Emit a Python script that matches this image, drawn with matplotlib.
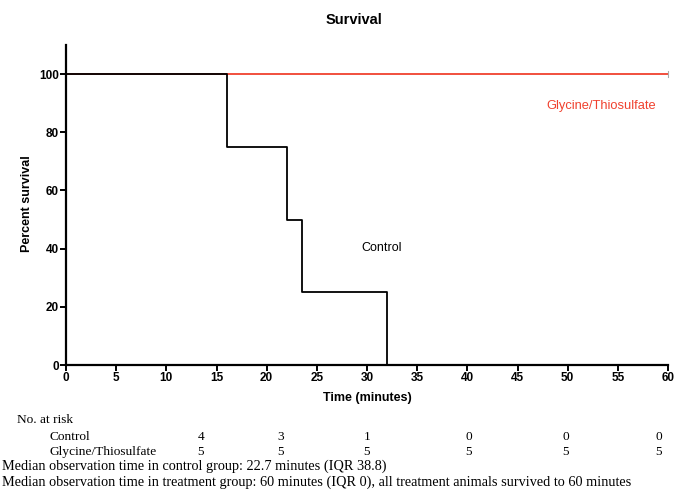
import matplotlib
matplotlib.use("Agg")
import matplotlib.pyplot as plt

# Kaplan-Meier step data (time in minutes, percent survival)
control_t = [0, 16, 22, 23.5, 32, 60]
control_s = [100, 75, 50, 25, 0, 0]
treat_t = [0, 60]
treat_s = [100, 100]

risk_times = [10, 20, 30, 40, 50, 60]
risk_control = [4, 3, 1, 0, 0, 0]
risk_treat = [5, 5, 5, 5, 5, 5]

RED = "#f0412e"

plt.rcParams["font.family"] = ["Liberation Sans", "DejaVu Sans"]

fig = plt.figure(figsize=(6.74, 4.90), dpi=100)
W, H = 674, 490
ax = fig.add_axes([66 / W, 1 - 365 / H, (668 - 66) / W, (365 - 45) / H])

ax.step(treat_t, treat_s, where="post", color=RED, lw=1.3, zorder=2)
ax.step(control_t, control_s, where="post", color="black", lw=1.3, zorder=3)
ax.plot([60, 60], [99, 101], color="#aaaaaa", lw=0.8, clip_on=False)

ax.set_xlim(0, 60)
ax.set_ylim(0, 110)
ax.set_xticks(range(0, 61, 5))
ax.set_yticks(range(0, 101, 20))
for s in ("top", "right"):
    ax.spines[s].set_visible(False)
for s in ("left", "bottom"):
    ax.spines[s].set_linewidth(1.6)
ax.tick_params(direction="out", length=4, width=1.4, labelsize=8.5, pad=1)
for lbl in ax.get_xticklabels() + ax.get_yticklabels():
    lbl.set_fontweight("bold")

ax.set_xlabel("Time (minutes)", fontsize=9, fontweight="bold", labelpad=6)
fig.text(27 / W, 1 - 204 / H, "Percent survival", rotation=90,
         ha="center", va="center", fontsize=9, fontweight="bold")
fig.text(354 / W, 1 - 20 / H, "Survival", ha="center", va="center",
         fontsize=10.5, fontweight="bold")

ax.text(31.5, 40.2, "Control", fontsize=9, ha="center", va="center")
ax.text(58.8, 89.2, "Glycine/Thiosulfate", fontsize=9.3, color=RED,
        ha="right", va="center")

# number-at-risk table below the plot
serif = ["Liberation Serif", "DejaVu Serif"]
fs = 9.6
fig.text(17 / W, 1 - 420 / H, "No. at risk", family=serif, fontsize=fs,
         va="center")
fig.text(50 / W, 1 - 437 / H, "Control", family=serif, fontsize=fs,
         va="center")
fig.text(50 / W, 1 - 452 / H, "Glycine/Thiosulfate", family=serif,
         fontsize=fs, va="center")
col_x = [201, 281, 367, 469, 566, 659]
for x, c, t in zip(col_x, risk_control, risk_treat):
    fig.text(x / W, 1 - 437 / H, str(c), family=serif, fontsize=fs,
             ha="center", va="center")
    fig.text(x / W, 1 - 452 / H, str(t), family=serif, fontsize=fs,
             ha="center", va="center")
fig.text(2 / W, 1 - 466 / H,
         "Median observation time in control group: 22.7 minutes (IQR 38.8)",
         family=serif, fontsize=10.3, va="center")
fig.text(2 / W, 1 - 482 / H,
         "Median observation time in treatment group: 60 minutes (IQR 0), "
         "all treatment animals survived to 60 minutes",
         family=serif, fontsize=10.3, va="center")

fig.savefig("out.png", dpi=100)
